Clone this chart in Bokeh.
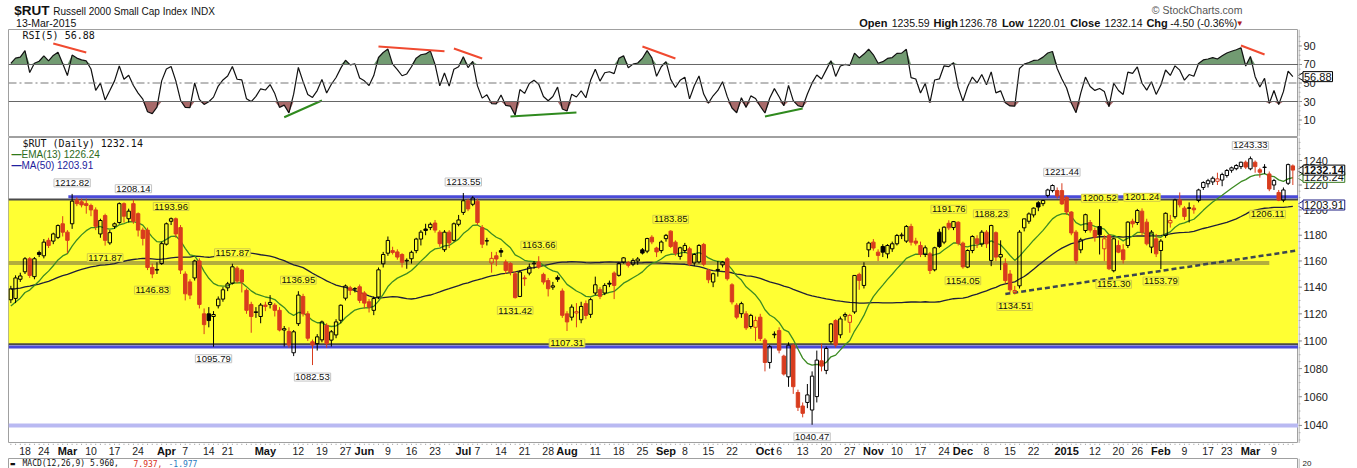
import numpy as np
import pandas as pd
from bokeh.plotting import figure
from bokeh.models import Range1d, Label, BoxAnnotation, Span, ColumnDataSource
from bokeh.layouts import column, row
from bokeh.embed import file_html
from bokeh.resources import INLINE
from bokeh.core.properties import value

# ---------------------------------------------------------------- data
first_day, last_day = "2014-02-12", "2015-03-13"
holidays = ["2014-02-17", "2014-04-18", "2014-05-26", "2014-07-04", "2014-09-01",
            "2014-11-27", "2014-12-25", "2015-01-01", "2015-01-19", "2015-02-16"]

# closes before the window (Dec-2013 .. 11-Feb-2014), only used to warm up the indicators
prior_closes = [1131, 1122, 1120, 1115, 1123, 1128, 1125, 1118, 1110, 1108, 1117, 1131, 1140, 1138,
                1146, 1150, 1152, 1158, 1160, 1163, 1164,
                1157, 1153, 1158, 1160, 1163, 1163, 1155, 1159, 1165, 1171, 1166, 1168, 1167, 1162,
                1143, 1130, 1134, 1125, 1137, 1131, 1130,
                1094, 1097, 1094, 1112, 1118, 1124, 1131]

# (open, high, low, close) per trading day
ohlc_2014_02 = [(1130.5, 1141.0, 1128.0, 1138.7), (1131.5, 1149.0, 1128.0, 1147.0), (1146.0, 1151.0, 1144.0, 1148.5),
                (1151.7, 1163.0, 1150.0, 1161.7), (1161.7, 1163.0, 1147.0, 1148.9), (1148.0, 1163.0, 1146.0, 1161.7),
                (1166.5, 1168.0, 1163.0, 1165.0), (1164.0, 1177.0, 1162.0, 1174.6), (1176.0, 1178.0, 1170.0, 1172.0),
                (1175.4, 1182.0, 1173.0, 1181.0), (1178.3, 1188.5, 1177.0, 1187.6), (1189.0, 1195.0, 1179.0, 1182.4)]
ohlc_2014_03 = [(1182.4, 1184.0, 1166.0, 1176.0), (1189.0, 1212.82, 1185.0, 1207.0), (1208.0, 1210.0, 1203.0, 1205.0),
                (1206.5, 1209.0, 1202.0, 1204.0), (1205.0, 1209.0, 1197.0, 1203.5), (1203.5, 1205.0, 1195.0, 1200.0),
                (1200.0, 1202.0, 1184.0, 1187.0), (1181.0, 1193.0, 1178.0, 1191.6), (1195.5, 1197.0, 1171.87, 1176.0),
                (1174.0, 1184.0, 1172.5, 1182.0), (1187.0, 1190.0, 1185.0, 1189.0), (1190.0, 1206.0, 1189.0, 1205.0),
                (1205.0, 1206.0, 1190.0, 1195.0), (1193.0, 1201.0, 1190.0, 1199.0), (1205.0, 1208.14, 1189.0, 1191.0),
                (1197.0, 1198.0, 1179.0, 1184.0), (1184.0, 1186.0, 1172.0, 1177.5), (1184.0, 1186.0, 1153.0, 1155.0),
                (1155.0, 1158.0, 1146.83, 1150.0), (1153.0, 1159.0, 1150.0, 1153.5), (1158.0, 1175.0, 1157.0, 1173.4)]
ohlc_2014_04 = [(1173.0, 1190.0, 1172.0, 1189.0), (1191.0, 1193.96, 1188.0, 1193.0), (1193.0, 1194.0, 1178.0, 1181.0),
                (1186.0, 1188.0, 1150.0, 1153.0), (1150.0, 1152.0, 1130.0, 1135.0), (1144.0, 1146.0, 1131.0, 1134.0),
                (1147.0, 1161.0, 1145.0, 1160.0), (1160.0, 1162.0, 1124.0, 1127.0), (1120.0, 1124.0, 1105.0, 1112.0),
                (1120.0, 1125.0, 1110.0, 1115.0), (1118.0, 1122.0, 1095.79, 1119.5), (1126.0, 1133.0, 1124.0, 1131.0),
                (1131.0, 1140.0, 1129.0, 1138.0), (1139.5, 1144.0, 1137.0, 1142.5), (1143.0, 1157.87, 1142.0, 1155.5),
                (1154.5, 1156.0, 1143.0, 1144.6), (1153.0, 1154.0, 1136.0, 1144.0), (1137.6, 1139.0, 1120.0, 1122.6),
                (1127.0, 1129.0, 1106.0, 1118.0), (1121.0, 1125.0, 1117.0, 1121.5), (1118.0, 1128.0, 1113.0, 1126.5)]
ohlc_2014_05 = [(1126.5, 1129.0, 1122.0, 1125.5), (1127.0, 1134.0, 1124.0, 1128.5), (1126.5, 1128.0, 1118.0, 1122.6),
                (1122.6, 1125.0, 1107.0, 1108.0), (1108.0, 1111.0, 1096.0, 1109.0), (1107.0, 1110.0, 1095.0, 1097.0),
                (1091.4, 1108.0, 1089.0, 1106.7), (1112.7, 1136.95, 1111.0, 1134.0), (1133.0, 1135.0, 1118.0, 1120.0),
                (1120.0, 1122.0, 1100.0, 1102.0), (1099.4, 1101.0, 1082.53, 1097.0), (1098.0, 1105.0, 1093.0, 1103.0),
                (1100.8, 1115.0, 1099.0, 1114.0), (1111.5, 1113.0, 1095.0, 1098.0), (1100.6, 1108.0, 1096.0, 1106.7),
                (1104.4, 1116.0, 1102.0, 1114.0), (1115.2, 1127.0, 1113.0, 1126.4), (1131.7, 1142.0, 1130.0, 1140.9),
                (1139.5, 1141.0, 1134.0, 1137.6), (1138.6, 1140.0, 1136.0, 1138.9), (1140.3, 1142.0, 1128.0, 1130.0)]
ohlc_2014_06 = [(1135.6, 1137.0, 1124.0, 1128.0), (1129.0, 1131.0, 1121.0, 1125.0), (1122.6, 1133.0, 1119.0, 1131.4),
                (1132.6, 1155.0, 1131.0, 1153.2), (1157.8, 1167.0, 1155.0, 1165.0), (1166.0, 1179.0, 1164.0, 1175.9),
                (1168.0, 1171.0, 1165.0, 1166.6), (1167.0, 1169.0, 1161.0, 1163.0), (1165.0, 1166.0, 1155.0, 1159.0),
                (1160.0, 1162.0, 1154.0, 1160.5), (1161.7, 1168.0, 1158.0, 1166.7), (1168.0, 1178.0, 1166.0, 1177.0),
                (1177.0, 1184.0, 1172.0, 1182.4), (1184.9, 1189.0, 1180.0, 1183.7), (1186.0, 1190.0, 1184.0, 1188.6),
                (1189.6, 1192.0, 1182.0, 1184.0), (1182.4, 1184.0, 1171.0, 1173.4), (1168.7, 1184.0, 1167.0, 1182.4),
                (1182.4, 1184.0, 1170.0, 1174.0), (1176.0, 1190.0, 1175.0, 1189.0), (1188.6, 1196.0, 1187.0, 1192.0)]
ohlc_2014_07 = [(1198.0, 1213.55, 1196.0, 1207.3), (1207.3, 1209.0, 1199.0, 1200.8), (1204.5, 1211.0, 1203.0, 1209.5),
                (1207.0, 1209.0, 1188.0, 1190.0), (1186.0, 1188.0, 1170.0, 1173.0), (1175.5, 1178.0, 1172.0, 1175.7),
                (1158.4, 1167.0, 1151.0, 1162.0), (1164.0, 1167.0, 1156.0, 1161.5), (1168.0, 1170.0, 1163.0, 1166.8),
                (1159.2, 1161.0, 1150.0, 1152.7), (1158.0, 1159.0, 1149.0, 1151.5), (1150.2, 1152.0, 1131.42, 1132.1),
                (1133.0, 1153.0, 1132.5, 1151.5), (1147.0, 1149.0, 1141.0, 1146.4), (1150.7, 1158.0, 1149.0, 1155.3),
                (1157.8, 1160.0, 1154.0, 1158.3), (1159.2, 1163.66, 1154.0, 1155.3), (1149.7, 1151.0, 1142.0, 1143.9),
                (1145.0, 1147.0, 1133.0, 1138.8), (1140.0, 1144.0, 1138.0, 1141.0), (1147.4, 1149.0, 1144.0, 1146.0),
                (1137.1, 1139.0, 1117.0, 1118.9)]
ohlc_2014_08 = [(1120.0, 1122.0, 1107.31, 1114.0), (1117.5, 1127.0, 1115.0, 1125.0), (1120.6, 1128.0, 1110.0, 1121.6),
                (1115.6, 1129.0, 1113.0, 1125.5), (1127.6, 1130.0, 1116.0, 1118.8), (1119.6, 1132.0, 1117.0, 1130.6),
                (1135.6, 1148.0, 1134.0, 1141.8), (1138.1, 1140.0, 1131.0, 1133.1), (1135.6, 1143.0, 1134.0, 1141.3),
                (1143.0, 1145.0, 1140.0, 1142.3), (1150.7, 1152.0, 1131.0, 1141.3), (1149.0, 1159.0, 1148.0, 1158.0),
                (1159.2, 1163.0, 1158.0, 1162.4), (1158.5, 1160.0, 1155.0, 1156.7), (1157.5, 1162.0, 1156.0, 1160.4),
                (1160.0, 1163.0, 1157.0, 1161.5), (1168.6, 1170.0, 1165.0, 1166.1), (1167.6, 1178.0, 1166.0, 1177.4),
                (1178.4, 1180.0, 1173.0, 1174.8), (1170.0, 1171.0, 1163.0, 1167.0), (1168.0, 1176.0, 1166.0, 1174.7)]
ohlc_2014_09 = [(1177.3, 1181.0, 1175.0, 1179.9), (1183.2, 1183.85, 1170.0, 1171.2), (1174.6, 1176.0, 1164.0, 1166.0),
                (1163.5, 1171.0, 1161.0, 1170.2), (1168.1, 1174.0, 1166.0, 1172.0), (1169.4, 1171.0, 1156.0, 1157.5),
                (1158.5, 1166.0, 1156.0, 1165.0), (1159.2, 1173.0, 1158.0, 1172.0), (1172.8, 1174.0, 1156.0, 1157.5),
                (1152.7, 1154.0, 1143.0, 1145.6), (1143.9, 1151.0, 1140.0, 1150.2), (1152.7, 1160.0, 1148.0, 1153.5),
                (1157.0, 1160.0, 1155.0, 1159.2), (1161.7, 1163.0, 1145.0, 1146.4), (1141.8, 1143.0, 1127.0, 1128.9),
                (1126.4, 1128.0, 1116.0, 1117.5), (1120.1, 1129.0, 1117.0, 1127.6), (1120.0, 1122.0, 1108.0, 1109.6),
                (1110.6, 1120.0, 1109.0, 1118.8), (1110.0, 1118.0, 1100.0, 1115.0), (1117.5, 1120.0, 1100.0, 1101.8)]
ohlc_2014_10 = [(1100.6, 1102.0, 1078.0, 1084.4), (1084.4, 1097.0, 1080.0, 1095.8), (1105.0, 1107.0, 1102.0, 1104.5),
                (1107.6, 1110.0, 1091.0, 1093.3), (1089.0, 1090.0, 1075.0, 1076.1), (1074.1, 1099.0, 1067.0, 1096.9),
                (1096.9, 1098.0, 1062.0, 1067.1), (1063.0, 1065.0, 1050.0, 1052.6), (1053.5, 1056.0, 1045.6, 1048.4),
                (1056.0, 1069.0, 1052.0, 1061.3), (1050.7, 1078.0, 1040.47, 1074.6), (1060.1, 1093.0, 1056.0, 1086.1),
                (1085.6, 1098.0, 1078.0, 1081.8), (1078.7, 1096.0, 1076.0, 1094.5), (1099.5, 1113.0, 1098.0, 1112.5),
                (1115.0, 1116.0, 1095.0, 1097.0), (1104.5, 1118.0, 1102.0, 1116.2), (1118.3, 1121.0, 1115.0, 1119.5),
                (1113.7, 1120.0, 1106.0, 1118.8), (1121.4, 1149.0, 1120.0, 1148.9), (1149.7, 1151.0, 1138.0, 1145.1),
                (1141.3, 1159.0, 1139.0, 1155.8), (1168.6, 1175.0, 1163.0, 1173.9)]
ohlc_2014_11 = [(1174.6, 1177.0, 1168.0, 1170.0), (1166.8, 1169.0, 1160.0, 1164.3), (1171.2, 1173.0, 1163.0, 1166.8),
                (1165.5, 1173.0, 1162.0, 1172.0), (1169.4, 1175.0, 1167.0, 1173.3), (1173.3, 1181.0, 1172.0, 1179.8),
                (1179.6, 1182.0, 1177.0, 1180.2), (1175.4, 1188.0, 1174.0, 1186.9), (1186.9, 1189.0, 1172.0, 1174.6),
                (1175.4, 1178.0, 1172.0, 1173.8), (1172.0, 1175.0, 1163.0, 1165.0), (1165.0, 1172.0, 1163.0, 1170.2),
                (1165.5, 1167.0, 1150.0, 1152.7), (1153.2, 1171.0, 1152.0, 1170.2), (1182.4, 1185.0, 1170.0, 1171.2),
                (1174.6, 1187.0, 1173.0, 1186.3), (1189.4, 1191.76, 1184.0, 1185.8), (1186.0, 1191.2, 1184.0, 1190.7),
                (1190.2, 1191.0, 1172.0, 1173.8)]
ohlc_2014_12 = [(1173.8, 1175.0, 1154.05, 1155.5), (1155.3, 1169.0, 1154.5, 1168.1), (1168.1, 1180.0, 1166.0, 1179.0),
                (1177.2, 1180.0, 1170.0, 1173.3), (1173.0, 1184.0, 1171.0, 1182.4), (1182.4, 1184.0, 1170.0, 1173.3),
                (1160.4, 1188.23, 1156.0, 1187.6), (1182.0, 1183.0, 1160.0, 1163.0), (1163.0, 1176.0, 1153.0, 1165.0),
                (1158.0, 1162.0, 1143.0, 1145.0), (1150.0, 1153.0, 1136.0, 1138.0), (1136.0, 1141.0, 1134.51, 1137.5),
                (1141.0, 1184.0, 1139.0, 1182.4), (1185.8, 1193.0, 1183.0, 1192.9), (1191.0, 1198.0, 1189.0, 1196.8),
                (1196.0, 1202.0, 1194.0, 1201.4), (1205.7, 1207.0, 1199.0, 1202.3), (1205.0, 1208.0, 1203.0, 1207.5),
                (1211.6, 1217.0, 1210.0, 1216.0), (1215.5, 1220.5, 1214.0, 1219.6), (1215.5, 1218.0, 1209.0, 1211.2),
                (1215.5, 1221.44, 1204.0, 1204.8)]
ohlc_2015_01 = [(1210.0, 1211.0, 1196.0, 1198.3), (1198.3, 1199.0, 1180.0, 1181.8), (1182.4, 1184.0, 1158.0, 1160.4),
                (1168.6, 1178.0, 1166.0, 1176.4), (1183.7, 1197.0, 1182.0, 1196.2), (1190.0, 1192.0, 1182.0, 1184.0),
                (1183.7, 1186.0, 1175.0, 1178.5), (1186.8, 1200.52, 1165.0, 1180.3), (1169.4, 1180.0, 1160.0, 1177.2),
                (1179.8, 1181.0, 1153.0, 1154.0), (1152.5, 1178.0, 1151.30, 1177.2), (1172.0, 1176.0, 1166.0, 1166.8),
                (1168.6, 1173.0, 1158.0, 1160.9), (1172.0, 1191.0, 1170.0, 1190.3), (1191.0, 1193.0, 1186.0, 1189.0),
                (1190.0, 1200.8, 1188.0, 1199.5), (1199.0, 1201.24, 1180.0, 1182.4), (1190.3, 1193.0, 1172.0, 1173.3),
                (1170.7, 1184.0, 1166.0, 1182.4), (1177.2, 1181.0, 1163.0, 1165.5)]
ohlc_2015_02 = [(1168.1, 1177.0, 1153.79, 1175.4), (1179.8, 1198.0, 1178.0, 1197.3), (1189.7, 1196.0, 1186.0, 1191.6),
                (1194.6, 1209.0, 1193.0, 1208.0), (1208.0, 1214.0, 1202.0, 1204.1), (1201.4, 1203.0, 1192.0, 1194.8),
                (1201.6, 1206.0, 1190.0, 1201.4), (1201.4, 1204.0, 1197.0, 1200.1), (1207.5, 1217.0, 1206.0, 1216.0),
                (1218.0, 1223.0, 1216.0, 1222.0), (1221.0, 1225.0, 1218.0, 1223.5), (1222.5, 1227.0, 1220.0, 1225.5),
                (1223.0, 1230.0, 1220.0, 1225.0), (1224.0, 1230.0, 1219.0, 1228.5), (1227.7, 1233.0, 1226.0, 1231.8),
                (1232.0, 1235.0, 1230.0, 1234.0), (1233.3, 1237.0, 1232.0, 1235.9), (1235.0, 1239.0, 1233.0, 1238.6),
                (1238.6, 1240.0, 1233.0, 1234.6)]
ohlc_2015_03 = [(1233.2, 1243.33, 1232.0, 1241.5), (1238.6, 1240.0, 1230.0, 1235.0), (1232.4, 1234.0, 1226.0, 1230.4),
                (1234.6, 1237.0, 1229.0, 1234.3), (1229.0, 1231.0, 1215.0, 1216.8), (1220.0, 1225.0, 1216.0, 1223.6),
                (1214.0, 1216.0, 1207.0, 1207.8), (1207.8, 1218.0, 1206.11, 1216.0), (1221.4, 1237.5, 1220.0, 1236.64),
                (1235.59, 1236.78, 1220.01, 1232.14)]

# swing-point annotations: date, value, side (h = above high, l = below low), box (w = white, y = yellow)
ann_dates = ["2014-03-04", "2014-03-21", "2014-04-02", "2014-03-13", "2014-03-27", "2014-04-22", "2014-04-15",
             "2014-05-12", "2014-05-15", "2014-07-01", "2014-07-17", "2014-07-24", "2014-08-01", "2014-09-03",
             "2014-10-15", "2014-11-25", "2014-12-09", "2014-12-01", "2014-12-16", "2014-12-31", "2015-01-13",
             "2015-01-16", "2015-01-27", "2015-02-02", "2015-03-02", "2015-03-11"]
ann_values = [1212.82, 1208.14, 1193.96, 1171.87, 1146.83, 1157.87, 1095.79, 1136.95, 1082.53, 1213.55, 1131.42,
              1163.66, 1107.31, 1183.85, 1040.47, 1191.76, 1188.23, 1154.05, 1134.51, 1221.44, 1200.52, 1151.30,
              1201.24, 1153.79, 1243.33, 1206.11]
ann_side = ["h", "h", "h", "l", "l", "h", "l", "h", "l", "h", "l", "h", "l", "h", "l", "h", "h", "l", "l", "h", "h",
            "l", "h", "l", "h", "l"]
ann_box = ["w", "w", "y", "y", "y", "y", "w", "y", "w", "w", "y", "y", "y", "y", "w", "y", "y", "y", "y", "w", "y",
           "y", "y", "y", "w", "y"]

# drawn levels (price)
resistance_level, resistance_from = 1210.6, "2014-03-04"
box_top, box_bottom = 1208.4, 1097.6
support_level = 1095.6
mid_level, mid_to = 1158.5, "2015-03-06"
low_level = 1040.0
trend_dates = ["2014-12-12", "2015-02-02"]
trend_values = [1134.8, 1152.4]

# RSI divergence lines: start date, end date, start value, end value
rsi_red = [("2014-02-26", "2014-03-07", 92.7, 83.0), ("2014-06-05", "2014-06-25", 89.5, 84.4),
           ("2014-06-27", "2014-07-08", 87.3, 76.5), ("2014-08-25", "2014-09-04", 89.5, 76.5),
           ("2015-02-26", "2015-03-05", 90.5, 80.8)]
rsi_green = [("2014-05-07", "2014-05-19", 13.0, 31.1), ("2014-07-16", "2014-08-05", 13.8, 18.1),
             ("2014-10-01", "2014-10-13", 13.8, 22.4)]

# x-axis labels
tick_dates = ["2014-02-18", "2014-02-24", "2014-03-03", "2014-03-10", "2014-03-17", "2014-03-24", "2014-04-01",
              "2014-04-07", "2014-04-14", "2014-04-21", "2014-05-01", "2014-05-12", "2014-05-19", "2014-05-27",
              "2014-06-02", "2014-06-09", "2014-06-16", "2014-06-23", "2014-07-01", "2014-07-07", "2014-07-14",
              "2014-07-21", "2014-07-28", "2014-08-01", "2014-08-11", "2014-08-18", "2014-08-25", "2014-09-02",
              "2014-09-08", "2014-09-15", "2014-09-22", "2014-10-01", "2014-10-06", "2014-10-13", "2014-10-20",
              "2014-10-27", "2014-11-03", "2014-11-10", "2014-11-17", "2014-11-24", "2014-12-01", "2014-12-08",
              "2014-12-15", "2014-12-22", "2015-01-02", "2015-01-12", "2015-01-20", "2015-01-26", "2015-02-02",
              "2015-02-09", "2015-02-17", "2015-02-23", "2015-03-02", "2015-03-09"]
tick_texts = ["18", "24", "Mar", "10", "17", "24", "Apr", "7", "14", "21", "May", "12", "19", "27", "Jun", "9", "16",
              "23", "Jul", "7", "14", "21", "28", "Aug", "11", "18", "25", "Sep", "8", "15", "22", "Oct", "6", "13",
              "20", "27", "Nov", "10", "17", "24", "Dec", "8", "15", "22", "2015", "12", "20", "26", "Feb", "9", "17",
              "23", "Mar", "9"]

price_ticks = [1040, 1060, 1080, 1100, 1120, 1140, 1160, 1180, 1200, 1220, 1240]
rsi_ticks = [10, 30, 50, 70, 90]

# ---------------------------------------------------------------- derived
ohlc = (ohlc_2014_02 + ohlc_2014_03 + ohlc_2014_04 + ohlc_2014_05 + ohlc_2014_06 + ohlc_2014_07 + ohlc_2014_08 +
        ohlc_2014_09 + ohlc_2014_10 + ohlc_2014_11 + ohlc_2014_12 + ohlc_2015_01 + ohlc_2015_02 + ohlc_2015_03)
days = pd.bdate_range(first_day, last_day)
days = days[~days.isin(pd.to_datetime(holidays))]
n = min(len(days), len(ohlc))
days, ohlc = days[:n], ohlc[:n]
pos = {d.strftime("%Y-%m-%d"): i for i, d in enumerate(days)}
idx = np.arange(n, dtype=float)
o = np.array([r[0] for r in ohlc]); h = np.array([r[1] for r in ohlc])
l = np.array([r[2] for r in ohlc]); c = np.array([r[3] for r in ohlc])

allc = pd.Series(list(map(float, prior_closes)) + list(c))
ema13 = allc.ewm(span=13, adjust=False).mean().values[-n:]
ma50 = allc.rolling(50).mean().values[-n:]
dlt = allc.diff()
gain = dlt.clip(lower=0).ewm(alpha=1 / 5, adjust=False).mean()
loss = (-dlt.clip(upper=0)).ewm(alpha=1 / 5, adjust=False).mean()
rsi5 = (100 - 100 / (1 + gain / loss)).values[-n:]

RED = "#d83c1e"
prev = np.concatenate([[float(prior_closes[-1])], c[:-1]])
col = np.where(c < prev, RED, "#000000")
top = np.maximum(o, c); bot = np.minimum(o, c)
cs = ColumnDataSource(dict(x=idx, top=top, bot=bot, h=np.maximum(h, top), l=np.minimum(l, bot), col=col,
                           fa=np.where(c < o, 1.0, 0.0)))

# ---------------------------------------------------------------- figures
FONT, MONO = "Liberation Sans", "DejaVu Sans Mono"
W, LB, RB = 1357, 8, 59
X0, X1 = -0.5, 273.2
PX = 1290.0 / (X1 - X0)          # pixels per trading day
xr = Range1d(X0, X1)


def panel(height, width=W - RB, right=0, **kw):
    p = figure(width=width, height=height, x_range=xr, output_backend="svg", toolbar_location=None, title=None,
               min_border_left=LB, min_border_right=right, min_border_top=0, min_border_bottom=0,
               x_axis_location=None, y_axis_location=None,
               background_fill_color="white", border_fill_color="white", **kw)
    p.grid.visible = False
    p.outline_line_color = "#a0a0a0"
    return p


def axis_panel(height, yr, ticks, minor, tags, log=False, bottom=0):
    kw = dict(y_axis_type="log") if log else {}
    a = figure(width=RB, height=height, x_range=Range1d(0, RB), y_range=yr, output_backend="svg",
               toolbar_location=None, title=None, min_border=0, x_axis_location=None, y_axis_location=None,
               outline_line_color=None, background_fill_color="white", border_fill_color="white", **kw)
    a.min_border_bottom = bottom
    a.grid.visible = False
    a.add_layout(Span(location=0.5, dimension="height", line_color="#a0a0a0", line_width=1))
    if minor:
        a.segment(x0=np.zeros(len(minor)), y0=minor, x1=np.full(len(minor), 2.0), y1=minor,
                  line_color="#b4b4b4", line_width=1)
    if ticks:
        a.segment(x0=np.zeros(len(ticks)), y0=ticks, x1=np.full(len(ticks), 3.5), y1=ticks,
                  line_color="#909090", line_width=1)
        a.text(x=np.full(len(ticks), 5.0), y=ticks, text=[str(t) for t in ticks], text_font=value(FONT),
               text_font_size="11px", text_color="#222222", text_align="left", text_baseline="middle")
    for v, t, border, bold in tags:
        a.scatter(x=[3.0], y=[v], marker="triangle", angle=np.pi / 2, size=9, fill_color="white",
                  line_color=border, line_width=1)
        a.add_layout(Label(x=4.5, y=v, text=t, text_font=FONT, text_font_size="11px",
                           text_font_style="bold" if bold else "normal", text_color="#111111",
                           text_align="left", text_baseline="middle", background_fill_color="white",
                           border_line_color=border, border_line_width=1, padding=1))
    return a


def lab(p, x, y, t, xo=0, yo=0, size="11px", font=FONT, style="normal", color="#111111", align="left",
        bg=None, border=None):
    kw = dict(x=x, y=y, x_offset=xo, y_offset=yo, text=t, text_font=font, text_font_size=size,
              text_font_style=style, text_color=color, text_align=align, text_baseline="middle")
    if bg is not None:
        kw.update(background_fill_color=bg, border_line_color=border, border_line_width=1, padding=1)
    p.add_layout(Label(**kw))


# header
hdr = figure(width=W, height=29, x_range=Range1d(0, W), y_range=Range1d(29, 0), output_backend="svg",
             toolbar_location=None, title=None, min_border=0, x_axis_location=None, y_axis_location=None,
             outline_line_color=None)
hdr.grid.visible = False


def htext(x, y, t, size="10.5px", style="normal", color="#111111", align="left"):
    hdr.text(x=[x], y=[y], text=[t], text_font=value(FONT), text_font_size=size, text_font_style=style,
             text_color=color, text_align=align, text_baseline="middle")


htext(6, 10, "$RUT", size="13.5px", style="bold")
htext(47, 10.5, "Russell 2000 Small Cap Index", size="10px")
htext(192, 10.5, "INDX", size="10px")
htext(8, 22.5, "13-Mar-2015")
htext(1298, 9, "\u00a9 StockCharts.com", color="#555555", align="right")
for x, t, b in [(895, "Open", 1), (929, "1235.59", 0), (973, "High", 1), (1000, "1236.78", 0),
                (1045, "Low", 1), (1072, "1220.01", 0), (1117, "Close", 1), (1153, "1232.14", 0),
                (1197, "Chg", 1), (1222, "-4.50 (-0.36%)", 0)]:
    htext(x, 22.5, t, size="10.5px" if not b else "11px", style="bold" if b else "normal")
htext(1291, 22.5, "\u25bc", size="8px", color="#b02020")

# RSI panel
rs = panel(108, y_range=Range1d(-7.8, 107.8))
rs.min_border_bottom = 1
rs.varea(x=idx, y1=np.full(n, 70.0), y2=np.maximum(rsi5, 70), fill_color="#729b72")
rs.varea(x=idx, y1=np.minimum(rsi5, 30), y2=np.full(n, 30.0), fill_color="#a86a6a")
for lvl in (70, 30):
    rs.add_layout(Span(location=lvl, dimension="width", line_color="#666666", line_width=1))
rs.add_layout(Span(location=50, dimension="width", line_color="#777777", line_width=1, line_dash="8 3 2 3"))
rs.line(idx, rsi5, line_color="#111111", line_width=1.2)
rs.multi_line(xs=[[pos[a], pos[b]] for a, b, _, _ in rsi_red], ys=[[u, v] for _, _, u, v in rsi_red],
              line_color="#f04a30", line_width=2)
rs.multi_line(xs=[[pos[a], pos[b]] for a, b, _, _ in rsi_green], ys=[[u, v] for _, _, u, v in rsi_green],
              line_color="#2f8a1e", line_width=2)
lab(rs, X0, 107.8, "RSI(5) 56.88", xo=14, yo=-6, size="10px", font=MONO)
rs_ax = axis_panel(108, rs.y_range, rsi_ticks, list(range(0, 101, 5)), [(56.88, "56.88", "#000000", False)],
                   bottom=1)

# price panel
pr = panel(306, y_axis_type="log", y_range=Range1d(1027.6, 1259.1))
pr.add_layout(BoxAnnotation(bottom=box_bottom, top=box_top, fill_color="#ffff33", fill_alpha=1.0,
                            line_alpha=0, level="underlay"))
pr.add_layout(Span(location=box_top, dimension="width", line_color="#4a4a4a", line_width=2, level="underlay"))
pr.add_layout(Span(location=box_bottom, dimension="width", line_color="#4a4a4a", line_width=2, level="underlay"))
pr.add_layout(Span(location=support_level, dimension="width", line_color="#4a4ad8", line_width=3, level="underlay"))
pr.add_layout(Span(location=low_level, dimension="width", line_color="#b9b9f2", line_width=4, level="underlay"))
pr.line([X0, pos[mid_to]], [mid_level, mid_level], line_color="#b4ae3c", line_width=4)
pr.line([pos[resistance_from] - 0.8, X1], [resistance_level, resistance_level], line_color="#4a4ad8", line_width=3)

# trendline through the two lows, extended to the right edge (straight on the log scale)
tx0, tx1 = pos[trend_dates[0]], pos[trend_dates[1]]
slope = (np.log(trend_values[1]) - np.log(trend_values[0])) / (tx1 - tx0)
pr.line([tx0, X1 + 2], [trend_values[0], float(np.exp(np.log(trend_values[0]) + slope * (X1 + 2 - tx0)))],
        line_color="#3c4650", line_width=2.5, line_dash="5 3")

pr.line(idx, ma50, line_color="#1e1e3a", line_width=1.3)
pr.line(idx, ema13, line_color="#3c8b22", line_width=1.3)

pr.segment(x0="x", y0="top", x1="x", y1="h", line_color="col", line_width=1, source=cs)
pr.segment(x0="x", y0="l", x1="x", y1="bot", line_color="col", line_width=1, source=cs)
pr.vbar(x="x", width=0.72, top="top", bottom="bot", fill_color="col", fill_alpha="fa", line_color="col",
        line_width=1, source=cs)

for d, v, s, b in zip(ann_dates, ann_values, ann_side, ann_box):
    near_edge = (X1 - pos[d]) * PX < 30
    lab(pr, pos[d], v, f"{v:.2f}", xo=2 if near_edge else 0, yo=11 if s == "h" else -12, size="9.5px",
        align="right" if near_edge else "center",
        bg="white" if b == "w" else "#ffff33", border="#c4c4c4" if b == "w" else "#d2cc48")

lab(pr, X0, 1259.1, "$RUT (Daily) 1232.14", xo=14, yo=-6, size="10px", font=MONO)
lab(pr, X0, 1259.1, "\u2014", xo=3, yo=-17, size="10px", style="bold", color="#2f7a1a")
lab(pr, X0, 1259.1, "EMA(13) 1226.24", xo=13, yo=-17, size="10px", color="#2d6a1a")
lab(pr, X0, 1259.1, "\u2014", xo=3, yo=-28, size="10px", style="bold", color="#2020a0")
lab(pr, X0, 1259.1, "MA(50) 1203.91", xo=13, yo=-28, size="10px", color="#1c1c9c")

pr_ax = axis_panel(306, pr.y_range, price_ticks, list(range(1030, 1260, 5)),
                   [(1203.91, "1203.91", "#1a1a80", False), (1226.24, "1226.24", "#3a7a20", False),
                    (1232.14, "1232.14", "#000000", True)], log=True)

# date strip
st = panel(14, width=W, right=RB, y_range=Range1d(14, 0))
st.outline_line_color = None
st.segment(x0=idx, y0=np.zeros(n), x1=idx, y1=np.full(n, 1.5), line_color="#aaaaaa", line_width=1)
tix = [pos[d] for d in tick_dates]
bold = [not t.isdigit() or t == "2015" for t in tick_texts]
st.text(x=[x for x, b in zip(tix, bold) if not b], y=[7.3] * sum(1 for b in bold if not b),
        text=[t for t, b in zip(tick_texts, bold) if not b], text_font=value(FONT), text_font_size="10.5px",
        text_color="#222222", text_align="center", text_baseline="middle")
st.text(x=[x for x, b in zip(tix, bold) if b], y=[7.3] * sum(1 for b in bold if b),
        text=[t for t, b in zip(tick_texts, bold) if b], text_font=value(FONT), text_font_size="11px",
        text_font_style="bold", text_color="#111111", text_align="center", text_baseline="middle")

# MACD strip (only its legend line shows inside the window)
mc = panel(11, y_range=Range1d(11, 0))
lab(mc, X0, 4.6, "\u25ac", xo=2, size="7.5px", font=MONO)
lab(mc, X0, 4.6, "MACD(12,26,9) 5.960,", xo=14, size="8px", font=MONO)
lab(mc, X0, 4.6, "7.937,", xo=125, size="8px", font=MONO, color="#d83020")
lab(mc, X0, 4.6, "-1.977", xo=160, size="8px", font=MONO, color="#2a7ac0")
mc_ax = axis_panel(11, mc.y_range, [], [], [])
mc_ax.text(x=[4.0], y=[4.6], text=["20"], text_font=value(FONT), text_font_size="8px", text_color="#222222",
           text_align="left", text_baseline="middle")

layout = column(hdr, row(rs, rs_ax, spacing=0), row(pr, pr_ax, spacing=0), st, row(mc, mc_ax, spacing=0),
                spacing=0)
open("out.html", "w").write(file_html(layout, INLINE))
